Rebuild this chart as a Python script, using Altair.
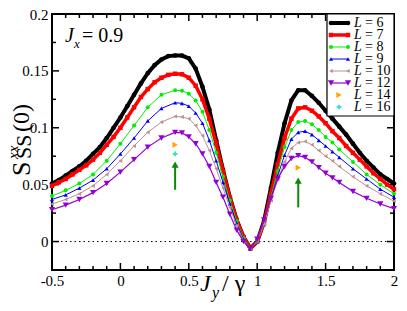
import altair as alt
import pandas as pd

FONT = "Liberation Serif"
W, H = 342, 256
X_DOM = [-0.5, 2.0]
Y_DOM = [-0.025, 0.2]

# ---------------- data ----------------
x_fine = [-0.5, -0.45, -0.4, -0.35, -0.3, -0.25, -0.2, -0.15, -0.1, -0.05,
          0.0, 0.05, 0.1, 0.15, 0.2, 0.25, 0.3, 0.35, 0.4, 0.45,
          0.5, 0.55, 0.6, 0.65, 0.7, 0.75, 0.8, 0.85, 0.9, 0.95,
          1.0, 1.05, 1.1, 1.15, 1.2, 1.25, 1.3, 1.35, 1.4, 1.45,
          1.5, 1.55, 1.6, 1.65, 1.7, 1.75, 1.8, 1.85, 1.9, 1.95, 2.0]
y_L6 = [0.051, 0.054, 0.058, 0.062, 0.066, 0.071, 0.077, 0.083, 0.091, 0.100,
        0.109, 0.119, 0.129, 0.139, 0.148, 0.155, 0.160, 0.163, 0.1635, 0.1635,
        0.161, 0.152, 0.136, 0.116, 0.089, 0.063, 0.039, 0.019, 0.004, -0.006,
        0.000, 0.018, 0.047, 0.078, 0.104, 0.124, 0.133, 0.133, 0.128, 0.122,
        0.115, 0.108, 0.101, 0.094, 0.086, 0.078, 0.071, 0.065, 0.059, 0.055, 0.051]
y_L7 = [0.049, 0.052, 0.055, 0.059, 0.063, 0.067, 0.072, 0.078, 0.085, 0.092,
        0.100, 0.109, 0.118, 0.127, 0.134, 0.140, 0.144, 0.1465, 0.1475, 0.147,
        0.144, 0.137, 0.125, 0.108, 0.086, 0.062, 0.039, 0.019, 0.004, -0.006,
        0.000, 0.016, 0.042, 0.068, 0.091, 0.108, 0.117, 0.118, 0.115, 0.110,
        0.104, 0.097, 0.091, 0.084, 0.078, 0.072, 0.066, 0.060, 0.055, 0.050, 0.046]

x_coarse = [-0.5, -0.4, -0.3, -0.2, -0.1, 0.0, 0.1, 0.2, 0.3, 0.4,
            0.45, 0.5, 0.55, 0.6, 0.65, 0.7, 0.75, 0.8, 0.85, 0.9,
            0.95, 1.0, 1.05, 1.1, 1.15, 1.2, 1.25, 1.3, 1.35, 1.4,
            1.45, 1.5, 1.55, 1.6, 1.7, 1.8, 1.9, 2.0]
y_L8 = [0.040, 0.045, 0.051, 0.059, 0.071, 0.086, 0.102, 0.118, 0.129, 0.133,
        0.1325, 0.130, 0.124, 0.114, 0.098, 0.078, 0.057, 0.036, 0.018, 0.003,
        -0.006, 0.000, 0.015, 0.039, 0.062, 0.083, 0.098, 0.105, 0.106, 0.103,
        0.098, 0.092, 0.087, 0.081, 0.070, 0.059, 0.050, 0.042]
y_L9 = [0.037, 0.041, 0.047, 0.054, 0.064, 0.077, 0.091, 0.106, 0.117, 0.122,
        0.1215, 0.119, 0.113, 0.104, 0.089, 0.071, 0.052, 0.033, 0.016, 0.002,
        -0.006, 0.001, 0.015, 0.037, 0.058, 0.076, 0.090, 0.096, 0.097, 0.094,
        0.089, 0.084, 0.079, 0.074, 0.064, 0.055, 0.046, 0.039]
y_L10 = [0.033, 0.037, 0.042, 0.049, 0.059, 0.071, 0.084, 0.096, 0.105, 0.110,
         0.1095, 0.108, 0.102, 0.093, 0.080, 0.064, 0.047, 0.030, 0.014, 0.001,
         -0.006, 0.001, 0.015, 0.036, 0.055, 0.070, 0.082, 0.087, 0.088, 0.085,
         0.080, 0.075, 0.071, 0.066, 0.057, 0.049, 0.042, 0.0355]
y_L12 = [0.028, 0.032, 0.037, 0.043, 0.051, 0.061, 0.072, 0.083, 0.091, 0.096,
         0.0955, 0.092, 0.086, 0.077, 0.066, 0.052, 0.039, 0.024, 0.010, 0.000,
         -0.006, 0.002, 0.019, 0.038, 0.055, 0.066, 0.073, 0.0755, 0.074, 0.070,
         0.065, 0.060, 0.056, 0.052, 0.044, 0.038, 0.033, 0.029]
x_L14 = [0.4, 1.3]
y_L14 = [0.085, 0.065]
x_L16 = [0.4]
y_L16 = [0.077]

arrow_x = [0.4, 1.3]
arrow_y0 = [0.0455, 0.030]
arrow_y1 = [0.066, 0.052]
arrow_head = [0.0676, 0.0536]

x_major = [-0.5, 0, 0.5, 1, 1.5, 2]
x_minor = [-0.4, -0.3, -0.2, -0.1, 0.1, 0.2, 0.3, 0.4, 0.6, 0.7, 0.8, 0.9,
           1.1, 1.2, 1.3, 1.4, 1.6, 1.7, 1.8, 1.9]
y_major = [0, 0.05, 0.1, 0.15, 0.2]
y_minor = [0.025, 0.075, 0.125, 0.175]

legend_labels = ["6", "7", "8", "9", "10", "12", "14", "16"]

# ---------------- styles ----------------
COLORS = ["#000000", "#ff0000", "#00ee00", "#0000ff", "#bc8f8f", "#9400d3", "#ffa500", "#40e0d0"]
SHAPES = ["circle", "square", "circle", "triangle-up", "triangle-left", "triangle-down", "triangle-right", "cross"]
SIZES = [22, 20, 16, 18, 18, 38, 38, 22]
LINEW = [4, 3.5, 1, 1, 1, 1.2, 0, 0]
ARROW = "#0a8a0a"

xs = alt.Scale(domain=X_DOM, nice=False, zero=False)
ys = alt.Scale(domain=Y_DOM, nice=False, zero=False)

AX_X = alt.Axis(values=x_major, labelExpr="'' + datum.value", tickSize=0, domain=False, grid=False,
                labelFont=FONT, labelFontSize=15, labelColor="black", labelPadding=3,
                labelFlush=False, labelOverlap=False, title=None)
AX_Y = alt.Axis(values=y_major, labelExpr="'' + datum.value", tickSize=0, domain=False, grid=False,
                labelFont=FONT, labelFontSize=15, labelColor="black", labelPadding=4,
                labelFlush=False, labelOverlap=False, title=None)


def X(field="x"):
    return alt.X(f"{field}:Q", scale=xs, axis=AX_X)


def Y(field="y"):
    return alt.Y(f"{field}:Q", scale=ys, axis=AX_Y)


def py_to_y(p):
    # legend rows are placed in pixels, converted to the shared y scale
    return Y_DOM[1] - p * (Y_DOM[1] - Y_DOM[0]) / H


one = pd.DataFrame({"a": [0]})
layers = []

# base layer carrying the axes
layers.append(alt.Chart(pd.DataFrame({"x": X_DOM, "y": Y_DOM})).mark_point(opacity=0).encode(
    x=X(), y=Y()))

# zero dotted line
layers.append(alt.Chart(pd.DataFrame({"y": [0.0]})).mark_rule(
    color="black", strokeWidth=1, strokeDash=[1.5, 3]).encode(y=Y(), x=alt.value(0), x2=alt.value(W)))

# inward ticks
xt = pd.DataFrame({"x": x_major})
xm = pd.DataFrame({"x": x_minor})
yt = pd.DataFrame({"y": y_major})
ym = pd.DataFrame({"y": y_minor})
for df, ln in ((xt, 7), (xm, 4)):
    layers.append(alt.Chart(df).mark_rule(color="black", strokeWidth=1.5).encode(
        x=X(), y=alt.value(H), y2=alt.value(H - ln)))
    layers.append(alt.Chart(df).mark_rule(color="black", strokeWidth=1.5).encode(
        x=X(), y=alt.value(0), y2=alt.value(ln)))
for df, ln in ((yt, 7), (ym, 4)):
    layers.append(alt.Chart(df).mark_rule(color="black", strokeWidth=1.5).encode(
        y=Y(), x=alt.value(0), x2=alt.value(ln)))
    layers.append(alt.Chart(df).mark_rule(color="black", strokeWidth=1.5).encode(
        y=Y(), x=alt.value(W), x2=alt.value(W - ln)))

# series
series = [(x_fine, y_L6), (x_fine, y_L7), (x_coarse, y_L8), (x_coarse, y_L9),
          (x_coarse, y_L10), (x_coarse, y_L12), (x_L14, y_L14), (x_L16, y_L16)]
for i, (xv, yv) in enumerate(series):
    df = pd.DataFrame({"x": xv, "y": yv})
    if LINEW[i] > 0:
        layers.append(alt.Chart(df).mark_line(color=COLORS[i], strokeWidth=LINEW[i]).encode(x=X(), y=Y()))
    layers.append(alt.Chart(df).mark_point(shape=SHAPES[i], filled=True, color=COLORS[i],
                                           size=SIZES[i], opacity=1).encode(x=X(), y=Y()))

# arrows
adf = pd.DataFrame({"x": arrow_x, "y0": arrow_y0, "y1": arrow_y1, "yh": arrow_head})
layers.append(alt.Chart(adf).mark_rule(color=ARROW, strokeWidth=2).encode(
    x=X(), y=Y("y0"), y2="y1:Q"))
layers.append(alt.Chart(adf).mark_point(shape="triangle-up", filled=True, color=ARROW,
                                        size=50, opacity=1).encode(x=X(), y=Y("yh")))

# legend box
LB = W - 67
layers.append(alt.Chart(one).mark_rect(fill="white", stroke="black", strokeWidth=1.2).encode(
    x=alt.value(LB), x2=alt.value(W), y=alt.value(0), y2=alt.value(102)))
leg = pd.DataFrame({
    "lab": ["= " + s for s in legend_labels],
    "y": [py_to_y(9 + 12 * i) for i in range(len(legend_labels))],
    "col": COLORS, "shape": SHAPES, "size": SIZES, "sw": LINEW,
})
legl = leg.iloc[:6]
layers.append(alt.Chart(legl).mark_rule().encode(
    x=alt.value(LB + 4), x2=alt.value(LB + 21), y=Y(),
    color=alt.Color("col:N", scale=None, legend=None),
    strokeWidth=alt.StrokeWidth("sw:Q", scale=None, legend=None)))
for xp in (LB + 4, LB + 21):
    layers.append(alt.Chart(legl).mark_point(filled=True, opacity=1).encode(
        x=alt.value(xp), y=Y(),
        color=alt.Color("col:N", scale=None, legend=None),
        shape=alt.Shape("shape:N", scale=None, legend=None),
        size=alt.Size("size:Q", scale=None, legend=None)))
layers.append(alt.Chart(leg.iloc[6:]).mark_point(filled=True, opacity=1).encode(
    x=alt.value(LB + 12), y=Y(),
    color=alt.Color("col:N", scale=None, legend=None),
    shape=alt.Shape("shape:N", scale=None, legend=None),
    size=alt.Size("size:Q", scale=None, legend=None)))
layers.append(alt.Chart(leg).mark_text(text="L", font=FONT, fontSize=14, fontStyle="italic",
                                       align="left", baseline="middle", color="black").encode(
    x=alt.value(LB + 27), y=Y()))
layers.append(alt.Chart(leg).mark_text(font=FONT, fontSize=14, align="left", baseline="middle",
                                       color="black").encode(
    x=alt.value(LB + 38), y=Y(), text="lab:N"))


def txt(s, x, y, size, italic=False, angle=None, align="left", baseline="alphabetic"):
    kw = dict(text=s, font=FONT, fontSize=size, color="black", align=align, baseline=baseline)
    if italic:
        kw["fontStyle"] = "italic"
    if angle is not None:
        kw["angle"] = angle
    return alt.Chart(one).mark_text(**kw).encode(x=alt.value(x), y=alt.value(y))


# J_x = 0.9
layers.append(txt("J", 13, 28, 20, italic=True))
layers.append(txt("x", 22, 34, 13, italic=True))
layers.append(txt("= 0.9", 30, 28, 20))

# x title  J_y / γ
cx = W / 2
layers.append(txt("J", cx - 23, H + 21, 24, italic=True))
layers.append(txt("y", cx - 11, H + 28, 16, italic=True))
layers.append(txt("/ γ", cx - 1, H + 21, 24))

# y title  S^xx_SS(0), rotated
cy = H / 2
layers.append(txt("S", -30, cy + 34, 26, angle=270, baseline="middle"))
layers.append(txt("xx", -39, cy + 17, 15, italic=True, angle=270, baseline="middle"))
layers.append(txt("SS", -28, cy + 17, 22, angle=270, baseline="middle"))
layers.append(txt("(0)", -30, cy - 10, 24, angle=270, baseline="middle"))

chart = alt.layer(*layers).properties(
    width=W, height=H,
    autosize=alt.AutoSizeParams(type="none"),
    padding={"left": 44, "top": 6, "right": 5, "bottom": 33},
    background="white",
).configure_view(stroke="black", strokeWidth=2)

chart.save("out.html", embed_options={"renderer": "svg", "actions": False})
